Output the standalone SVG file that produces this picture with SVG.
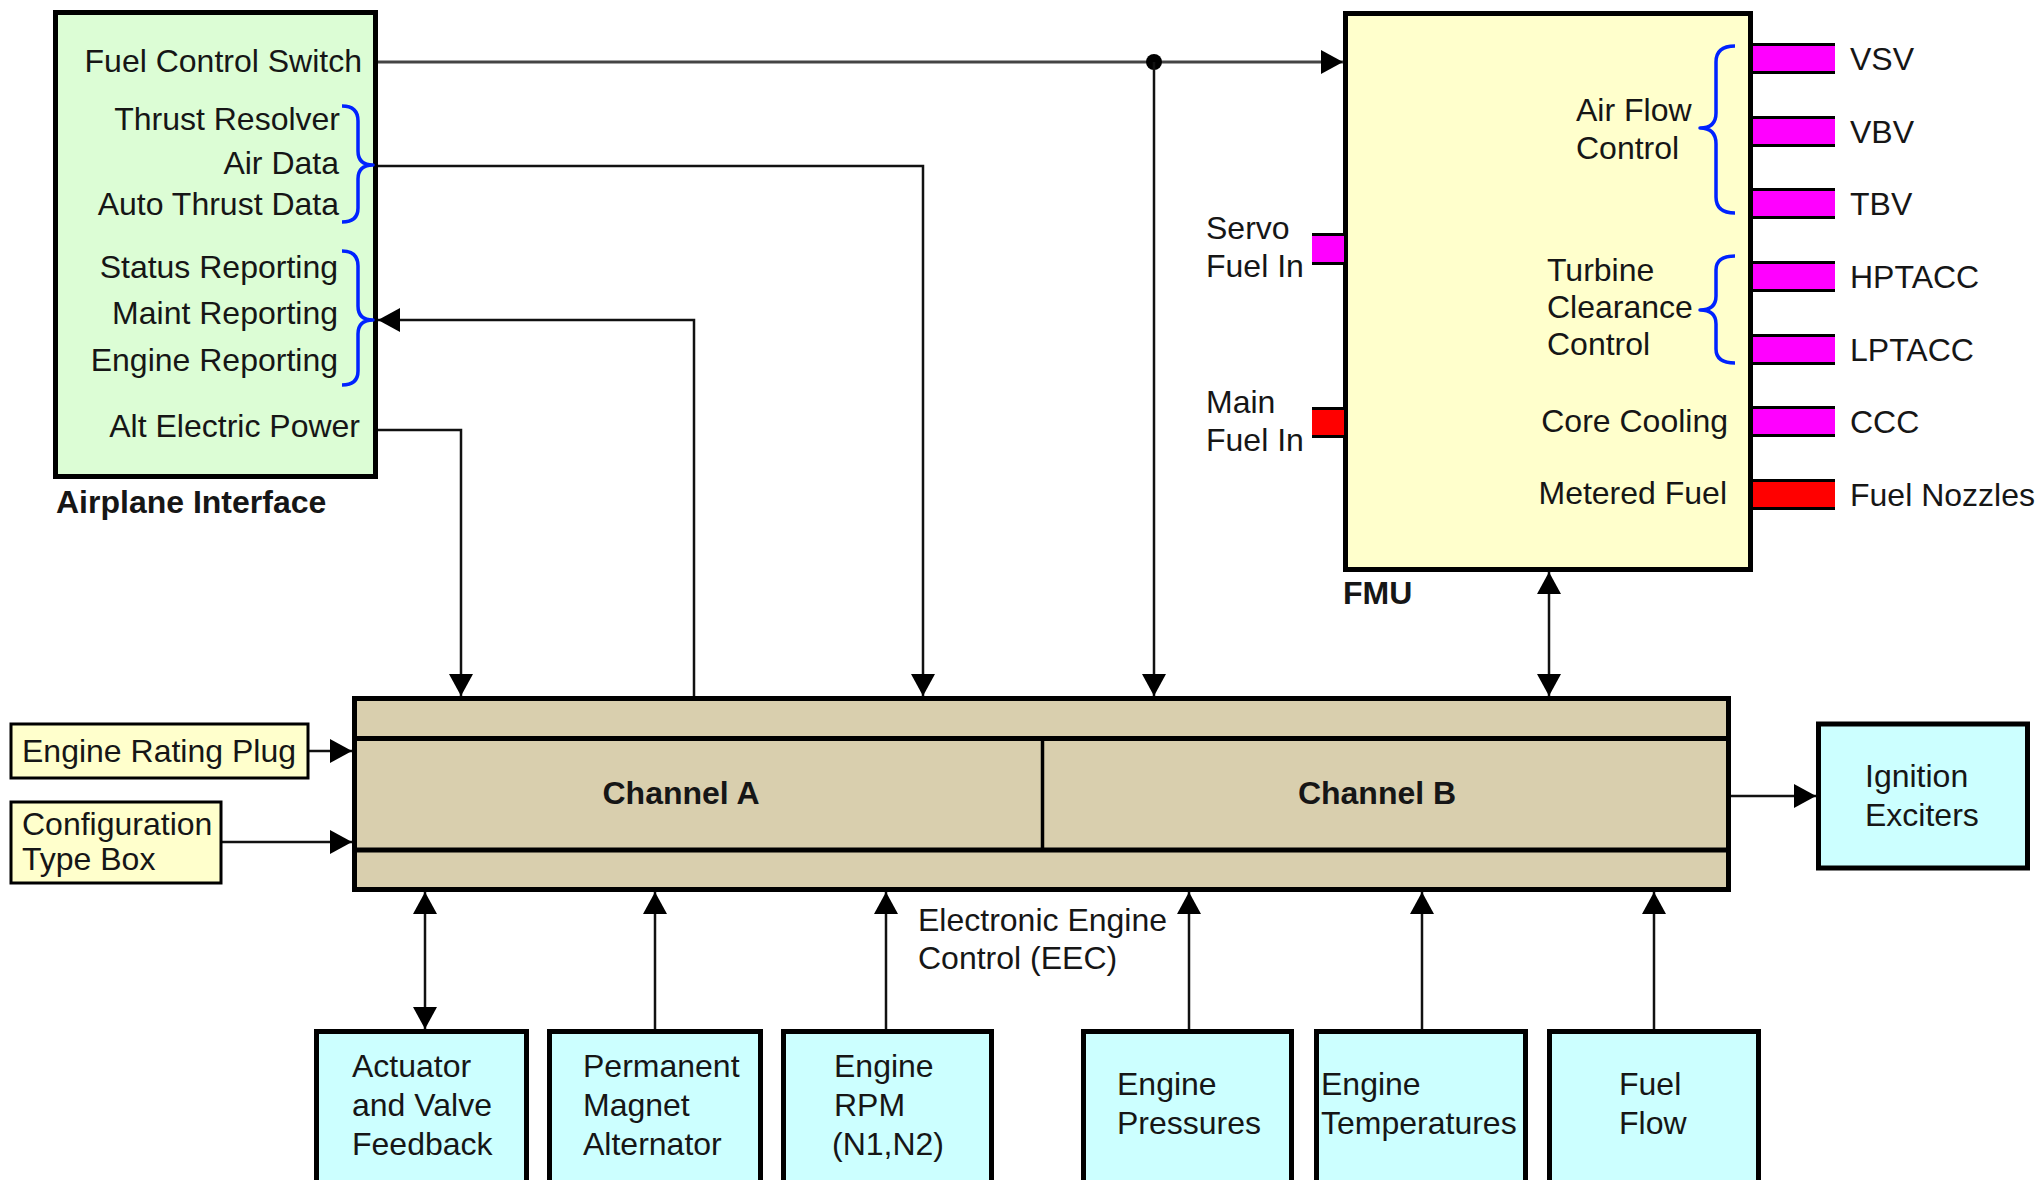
<svg xmlns="http://www.w3.org/2000/svg" width="2041" height="1180" viewBox="0 0 2041 1180">
<style>
text{font-family:"Liberation Sans",Arial,sans-serif;font-size:32px;fill:#161616}
.b{font-weight:bold}
.e{text-anchor:end}
.box{stroke:#000;stroke-width:5}
.sm{stroke:#000;stroke-width:3}
.con{fill:none;stroke:#111;stroke-width:2.5}
.brace{fill:none;stroke:#0022ff;stroke-width:3.5;stroke-linejoin:round}
.mag{fill:#ff00ff}
.red{fill:#ff0000}
.pl{stroke:#000;stroke-width:3}
</style>
<defs>
<marker id="ah" markerUnits="userSpaceOnUse" viewBox="0 0 22 24" refX="22" refY="12" markerWidth="22" markerHeight="24" orient="auto-start-reverse">
<path d="M0,0 L22,12 L0,24 z" fill="#000"/>
</marker>
</defs>
<rect width="2041" height="1180" fill="#fff"/>

<g id="connectors">
<line x1="378" y1="62" x2="1343" y2="62" stroke="#444" stroke-width="3" marker-end="url(#ah)"/>
<circle cx="1154" cy="62" r="8" fill="#000"/>
<line class="con" x1="1154" y1="62" x2="1154" y2="696" marker-end="url(#ah)"/>
<polyline class="con" points="375,166 923,166 923,696" marker-end="url(#ah)"/>
<polyline class="con" points="694,696 694,320 378,320" marker-end="url(#ah)"/>
<polyline class="con" points="378,430 461,430 461,696" marker-end="url(#ah)"/>
<line class="con" x1="1549" y1="572" x2="1549" y2="696" marker-start="url(#ah)" marker-end="url(#ah)"/>
<line class="con" x1="309" y1="751" x2="352" y2="751" stroke-width="3" marker-end="url(#ah)"/>
<line class="con" x1="222" y1="842" x2="352" y2="842" stroke-width="3" marker-end="url(#ah)"/>
<line class="con" x1="1731" y1="796" x2="1816" y2="796" stroke-width="3" marker-end="url(#ah)"/>
<line class="con" x1="425" y1="892" x2="425" y2="1029" marker-start="url(#ah)" marker-end="url(#ah)"/>
<line class="con" x1="655" y1="1029" x2="655" y2="892" marker-end="url(#ah)"/>
<line class="con" x1="886" y1="1029" x2="886" y2="892" marker-end="url(#ah)"/>
<line class="con" x1="1189" y1="1029" x2="1189" y2="892" marker-end="url(#ah)"/>
<line class="con" x1="1422" y1="1029" x2="1422" y2="892" marker-end="url(#ah)"/>
<line class="con" x1="1654" y1="1029" x2="1654" y2="892" marker-end="url(#ah)"/>
</g>

<g id="airplane-interface">
<rect class="box" x="55.5" y="12.5" width="320" height="464" fill="#dcfdd5"/>
<text class="e" x="362" y="72">Fuel Control Switch</text>
<text class="e" x="340" y="130">Thrust Resolver</text>
<text class="e" x="339" y="174">Air Data</text>
<text class="e" x="339" y="215">Auto Thrust Data</text>
<text class="e" x="338" y="278">Status Reporting</text>
<text class="e" x="338" y="324">Maint Reporting</text>
<text class="e" x="338" y="371">Engine Reporting</text>
<text class="e" x="360" y="437">Alt Electric Power</text>
<path class="brace" d="M342,106 Q358,106 358,121 L358,151 Q358,165 373,165 Q358,165 358,179 L358,208 Q358,222 342,222"/>
<path class="brace" d="M342,251 Q358,251 358,266 L358,306 Q358,320 373,320 Q358,320 358,334 L358,371 Q358,385 342,385"/>
<text class="b" x="56" y="513">Airplane Interface</text>
</g>

<g id="fmu">
<rect class="box" x="1345.5" y="13.5" width="405" height="556" fill="#ffffcc"/>
<text x="1576" y="121">Air Flow</text>
<text x="1576" y="159">Control</text>
<path class="brace" d="M1735,46 Q1716,46 1716,62 L1716,113 Q1716,128 1700,128 Q1716,128 1716,144 L1716,197 Q1716,213 1735,213"/>
<text x="1547" y="281">Turbine</text>
<text x="1547" y="318">Clearance</text>
<text x="1547" y="355">Control</text>
<path class="brace" d="M1735,256 Q1716,256 1716,270 L1716,296 Q1716,310 1700,310 Q1716,310 1716,324 L1716,349 Q1716,363 1735,363"/>
<text class="e" x="1728" y="432">Core Cooling</text>
<text class="e" x="1727" y="504">Metered Fuel</text>
<text class="b" x="1343" y="604">FMU</text>
</g>

<g id="fmu-ports">
<rect class="mag" x="1753" y="43" width="82" height="31"/><line class="pl" x1="1753" y1="44.5" x2="1835" y2="44.5"/><line class="pl" x1="1753" y1="72.5" x2="1835" y2="72.5"/>
<rect class="mag" x="1753" y="116" width="82" height="31"/><line class="pl" x1="1753" y1="117.5" x2="1835" y2="117.5"/><line class="pl" x1="1753" y1="145.5" x2="1835" y2="145.5"/>
<rect class="mag" x="1753" y="188" width="82" height="31"/><line class="pl" x1="1753" y1="189.5" x2="1835" y2="189.5"/><line class="pl" x1="1753" y1="217.5" x2="1835" y2="217.5"/>
<rect class="mag" x="1753" y="261" width="82" height="31"/><line class="pl" x1="1753" y1="262.5" x2="1835" y2="262.5"/><line class="pl" x1="1753" y1="290.5" x2="1835" y2="290.5"/>
<rect class="mag" x="1753" y="334" width="82" height="31"/><line class="pl" x1="1753" y1="335.5" x2="1835" y2="335.5"/><line class="pl" x1="1753" y1="363.5" x2="1835" y2="363.5"/>
<rect class="mag" x="1753" y="406" width="82" height="31"/><line class="pl" x1="1753" y1="407.5" x2="1835" y2="407.5"/><line class="pl" x1="1753" y1="435.5" x2="1835" y2="435.5"/>
<rect class="red" x="1753" y="479" width="82" height="31"/><line class="pl" x1="1753" y1="480.5" x2="1835" y2="480.5"/><line class="pl" x1="1753" y1="508.5" x2="1835" y2="508.5"/>
<text x="1850" y="70">VSV</text>
<text x="1850" y="143">VBV</text>
<text x="1850" y="215">TBV</text>
<text x="1850" y="288">HPTACC</text>
<text x="1850" y="361">LPTACC</text>
<text x="1850" y="433">CCC</text>
<text x="1850" y="506">Fuel Nozzles</text>
<rect class="mag" x="1312" y="233" width="32" height="32"/><line class="pl" x1="1312" y1="234.5" x2="1344" y2="234.5"/><line class="pl" x1="1312" y1="263.5" x2="1344" y2="263.5"/>
<rect class="red" x="1312" y="407" width="32" height="31"/><line class="pl" x1="1312" y1="408.5" x2="1344" y2="408.5"/><line class="pl" x1="1312" y1="436.5" x2="1344" y2="436.5"/>
<text x="1206" y="239">Servo</text>
<text x="1206" y="277">Fuel In</text>
<text x="1206" y="413">Main</text>
<text x="1206" y="451">Fuel In</text>
</g>

<g id="eec">
<rect class="box" x="354.5" y="698.5" width="1374" height="191" fill="#d9cfae"/>
<line class="box" x1="354" y1="738.5" x2="1729" y2="738.5"/>
<line class="box" x1="354" y1="850" x2="1729" y2="850"/>
<line x1="1042.5" y1="738" x2="1042.5" y2="850" stroke="#000" stroke-width="3.5"/>
<text class="b" x="681" y="804" text-anchor="middle">Channel A</text>
<text class="b" x="1377" y="804" text-anchor="middle">Channel B</text>
<text x="918" y="931">Electronic Engine</text>
<text x="918" y="969">Control (EEC)</text>
</g>

<g id="engine-rating-plug">
<rect class="sm" x="11" y="724" width="297" height="54" fill="#ffffcc"/>
<text x="22" y="762">Engine Rating Plug</text>
</g>
<g id="configuration-type-box">
<rect class="sm" x="11" y="802" width="210" height="81" fill="#ffffcc"/>
<text x="22" y="835">Configuration</text>
<text x="22" y="870">Type Box</text>
</g>
<g id="ignition-exciters">
<rect class="box" x="1818.5" y="724" width="209" height="144" fill="#ccffff"/>
<text x="1865" y="787">Ignition</text>
<text x="1865" y="826">Exciters</text>
</g>

<g id="actuator-feedback">
<rect class="box" x="316.5" y="1031.5" width="210" height="170" fill="#ccffff"/>
<text x="352" y="1077">Actuator</text>
<text x="352" y="1116">and Valve</text>
<text x="352" y="1155">Feedback</text>
</g>
<g id="pm-alternator">
<rect class="box" x="549.5" y="1031.5" width="211" height="170" fill="#ccffff"/>
<text x="583" y="1077">Permanent</text>
<text x="583" y="1116">Magnet</text>
<text x="583" y="1155">Alternator</text>
</g>
<g id="engine-rpm">
<rect class="box" x="783.5" y="1031.5" width="208" height="170" fill="#ccffff"/>
<text x="834" y="1077">Engine</text>
<text x="834" y="1116">RPM</text>
<text x="832" y="1155">(N1,N2)</text>
</g>
<g id="engine-pressures">
<rect class="box" x="1083.5" y="1031.5" width="208" height="170" fill="#ccffff"/>
<text x="1117" y="1095">Engine</text>
<text x="1117" y="1134">Pressures</text>
</g>
<g id="engine-temperatures">
<rect class="box" x="1316.5" y="1031.5" width="209" height="170" fill="#ccffff"/>
<text x="1321" y="1095">Engine</text>
<text x="1321" y="1134">Temperatures</text>
</g>
<g id="fuel-flow">
<rect class="box" x="1549.5" y="1031.5" width="209" height="170" fill="#ccffff"/>
<text x="1619" y="1095">Fuel</text>
<text x="1619" y="1134">Flow</text>
</g>
</svg>
